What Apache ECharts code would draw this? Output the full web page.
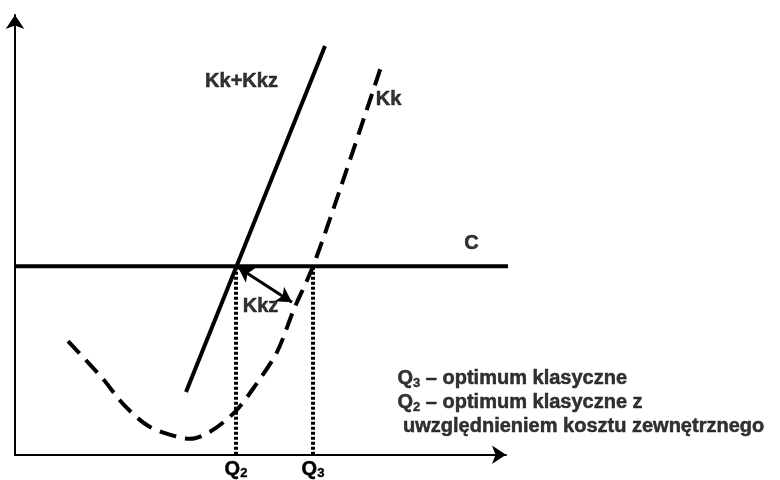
<!DOCTYPE html>
<html><head><meta charset="utf-8">
<script src="https://cdn.jsdelivr.net/npm/echarts@6/dist/echarts.min.js"></script>
<style>html,body{margin:0;padding:0;background:#fff}#c{width:780px;height:480px}</style>
</head><body><div id="c"></div>
<script>
// Data units: horizontal = quantity Q, vertical = cost
const kkCurve = [[53,114],[88,76],[108,51],[133,29],[162,18],[175,16],[195,23],[220,43],[240,69],[262,103],[279,146],[298,189],[325,266],[368,395]];
const kkPlusKkz = [[171,63],[310,410]];
const priceC = 189;
const cExtent = [0,505];
const q2 = 221;
const q3 = 298;
const kkzArrow = [[223,188],[277,153]];
const qTickValues = [q2, q3];
const qTickNames = ['{b|Q}{s|2}', '{b|Q}{s|3}'];
const curveLabels = [
  {text:'Kk+Kkz', pos:[227,374]},
  {text:'Kk', pos:[374,356]},
  {text:'C', pos:[457,211]},
  {text:'Kkz', pos:[246,148]}
];
const noteLines = ['{b|Q}{s|3}{b| – optimum klasyczne}', '{b|Q}{s|2}{b| – optimum klasyczne z}', '{b| uwzględnieniem kosztu zewnętrznego}'];
const notePos = [383,52];

const FONT = 'Liberation Sans, Arial, sans-serif';
const rich = {
  b:{fontFamily:FONT, fontWeight:'bold', fontSize:20, color:'#000', textBorderColor:'#000', textBorderWidth:0.5},
  s:{fontFamily:FONT, fontWeight:'bold', fontSize:13, color:'#000', textBorderColor:'#000', textBorderWidth:0.4, verticalAlign:'bottom'}
};

const chart = echarts.init(document.getElementById('c'), null, {renderer:'canvas'});
chart.setOption({
  animation:false,
  backgroundColor:'#fff',
  grid:{left:15, top:15, right:274, bottom:24, containLabel:false},
  xAxis:{type:'value', min:0, max:491,
    axisLine:{show:true, symbol:['none','arrow'], symbolSize:[14,14], lineStyle:{color:'#000', width:2}},
    axisTick:{show:false}, splitLine:{show:false},
    axisLabel:{show:true, customValues:qTickValues, margin:5, color:'#000', fontWeight:'bold',
      formatter:(v)=>qTickNames[qTickValues.indexOf(v)] || '', rich:rich}
  },
  yAxis:{type:'value', min:0, max:441,
    axisLine:{show:true, symbol:['none','arrow'], symbolSize:[14,14], lineStyle:{color:'#000', width:2}},
    axisTick:{show:false}, splitLine:{show:false}, axisLabel:{show:false}
  },
  series:[
    {type:'line', data:[[cExtent[0],priceC],[cExtent[1],priceC]], symbol:'none', clip:false,
      lineStyle:{color:'#000', width:4}},
    {type:'line', data:[[q2,0],[q2,priceC]], symbol:'none', lineStyle:{color:'#000', width:4, type:[3,2]}},
    {type:'line', data:[[q3,0],[q3,priceC]], symbol:'none', lineStyle:{color:'#000', width:4, type:[3,2]}},
    {type:'line', data:kkPlusKkz, symbol:'none', lineStyle:{color:'#000', width:4}},
    {type:'line', data:kkCurve, symbol:'none', smooth:0.3, lineStyle:{color:'#000', width:4, type:[17,9]}},
    {type:'line', data:[], symbol:'none',
      markLine:{silent:true, symbol:['arrow','arrow'], symbolSize:[13,15], label:{show:false},
        lineStyle:{color:'#000', width:3, type:'solid'},
        data:[[{coord:kkzArrow[0]},{coord:kkzArrow[1]}]]}},
    {type:'scatter', symbolSize:1, itemStyle:{color:'rgba(0,0,0,0)'},
      data:curveLabels.map(l=>({value:l.pos, name:l.text})),
      label:{show:true, position:[0,0], align:'center', verticalAlign:'middle', color:'#000', fontWeight:'bold',
        formatter:(p)=>'{b|'+p.name+'}', rich:rich}},
    {type:'scatter', symbolSize:1, itemStyle:{color:'rgba(0,0,0,0)'},
      data:[{value:notePos}],
      label:{show:true, position:[0,0], align:'left', verticalAlign:'middle', lineHeight:24, color:'#000', fontWeight:'bold',
        formatter:()=>noteLines.join('\n'), rich:rich}}
  ]
});
</script></body></html>
